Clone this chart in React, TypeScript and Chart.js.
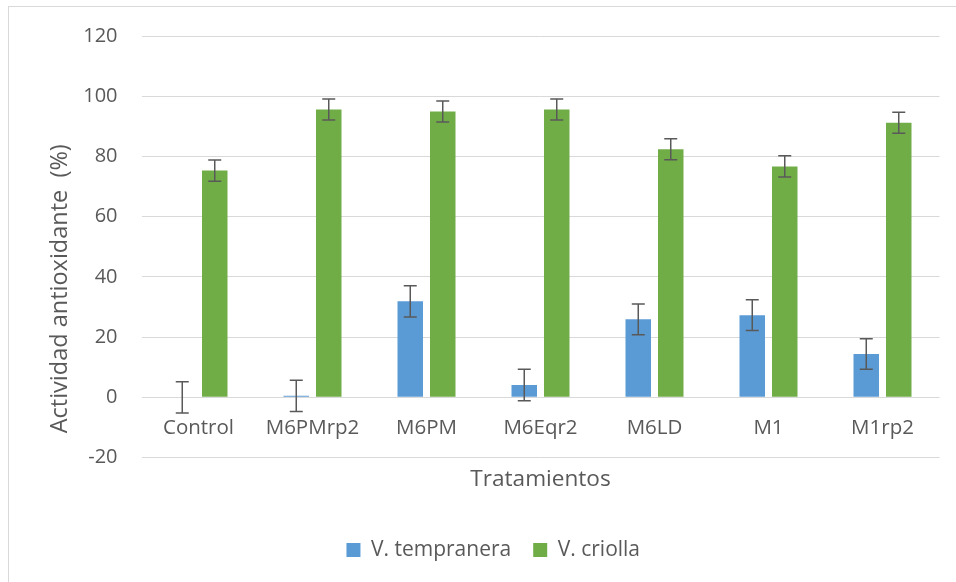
import React, { useEffect, useRef } from "react";
import { Chart, registerables } from "chart.js";

Chart.register(...registerables);

const categories = ["Control", "M6PMrp2", "M6PM", "M6Eqr2", "M6LD", "M1", "M1rp2"];
const seriesNames = ["V. tempranera", "V. criolla"];
const tempranera = [0, 0.5, 31.9, 4.1, 25.9, 27.3, 14.4];
const tempranetaErr = [5.2, 5.2, 5.2, 5.2, 5.1, 5.1, 5.1];
const criolla = [75.3, 95.6, 94.9, 95.6, 82.4, 76.7, 91.2];
const criollaErr = [3.5, 3.5, 3.5, 3.5, 3.5, 3.5, 3.5];
const yMin = -20;
const yMax = 120;
const yStep = 20;
const xTitle = "Tratamientos";
const yTitle = "Actividad antioxidante  (%)";

const FONT = '"Open Sans", sans-serif';
const TEXT = "#595959";

const errorBars = {
  id: "errorBars",
  afterDatasetsDraw(chart: any) {
    const ctx = chart.ctx;
    const yScale = chart.scales.y;
    ctx.save();
    ctx.strokeStyle = "#595959";
    ctx.lineWidth = 1.5;
    chart.data.datasets.forEach((ds: any, di: number) => {
      const meta = chart.getDatasetMeta(di);
      meta.data.forEach((el: any, i: number) => {
        const v = ds.data[i];
        const e = ds.errors[i];
        const x = el.x;
        const yTop = yScale.getPixelForValue(v + e);
        const yBot = yScale.getPixelForValue(v - e);
        const cap = 6.5;
        ctx.beginPath();
        ctx.moveTo(x, yTop);
        ctx.lineTo(x, yBot);
        ctx.moveTo(x - cap, yTop);
        ctx.lineTo(x + cap, yTop);
        ctx.moveTo(x - cap, yBot);
        ctx.lineTo(x + cap, yBot);
        ctx.stroke();
      });
    });
    ctx.restore();
  },
};

const yAxisTitle = {
  id: "yAxisTitle",
  afterDraw(chart: any) {
    const ctx = chart.ctx;
    ctx.save();
    ctx.fillStyle = TEXT;
    ctx.font = `23.5px ${FONT}`;
    ctx.textAlign = "center";
    ctx.textBaseline = "alphabetic";
    ctx.translate(66.7, 288.8);
    ctx.rotate(-Math.PI / 2);
    ctx.fillText(yTitle, 0, 0);
    ctx.restore();
  },
};

export default function App() {
  const ref = useRef<HTMLCanvasElement>(null);

  useEffect(() => {
    if (!ref.current) return;
    const chart = new Chart(ref.current, {
      type: "bar",
      data: {
        labels: categories,
        datasets: [
          {
            label: seriesNames[0],
            data: tempranera,
            errors: tempranetaErr,
            backgroundColor: "#5B9BD5",
            categoryPercentage: 0.57,
            barPercentage: 0.785,
          } as any,
          {
            label: seriesNames[1],
            data: criolla,
            errors: criollaErr,
            backgroundColor: "#70AD47",
            categoryPercentage: 0.57,
            barPercentage: 0.785,
          } as any,
        ],
      },
      options: {
        responsive: false,
        animation: false,
        devicePixelRatio: 1,
        layout: { padding: { left: 47, right: 16.5, top: 35, bottom: 11.5 } },
        plugins: {
          title: {
            display: true,
            text: xTitle,
            position: "bottom",
            fullSize: false,
            weight: 500,
            color: TEXT,
            font: { family: FONT, size: 22.6, weight: "normal" },
            padding: { top: 8.3, bottom: 24.5 },
          },
          legend: {
            position: "bottom",
            labels: {
              boxWidth: 14,
              boxHeight: 14,
              padding: 22,
              color: TEXT,
              font: { family: FONT, size: 21 },
            },
          },
          tooltip: { enabled: false },
        },
        scales: {
          x: {
            position: { y: 0 } as any,
            grid: { display: false, drawTicks: false },
            border: { display: false },
            ticks: {
              color: TEXT,
              font: { family: FONT, size: 20.5 },
              padding: 19,
              maxRotation: 0,
              autoSkip: false,
            },
          },
          y: {
            min: yMin,
            max: yMax,
            afterFit(scale: any) {
              scale.width = 94.5;
            },
            grid: { color: "#d9d9d9", lineWidth: 1, drawTicks: false },
            border: { display: false },
            ticks: {
              stepSize: yStep,
              color: TEXT,
              font: { family: FONT, size: 20 },
              padding: 24,
            },
          },
        },
      },
      plugins: [errorBars, yAxisTitle],
    });
    return () => chart.destroy();
  }, []);

  return (
    <div style={{ position: "absolute", left: 0, top: 0, width: 956, height: 582, overflow: "hidden", background: "#fff" }}>
      <div
        style={{
          position: "absolute",
          left: 8,
          top: 6,
          width: 980,
          height: 620,
          border: "1px solid #d9d9d9",
          boxSizing: "border-box",
        }}
      />
      <canvas ref={ref} width={956} height={582} style={{ position: "absolute", left: 0, top: 0 }} />
    </div>
  );
}
